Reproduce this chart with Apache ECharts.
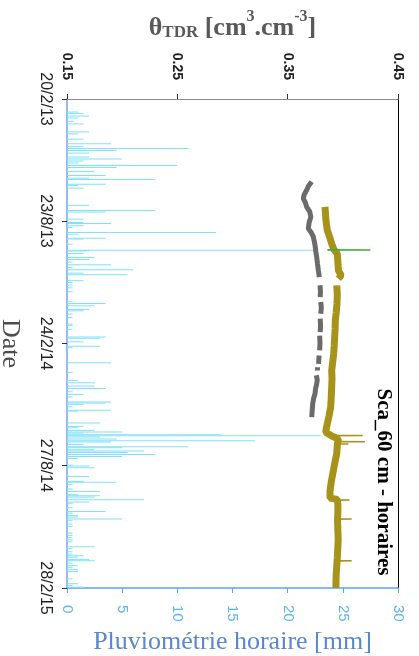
<!DOCTYPE html>
<html><head><meta charset="utf-8">
<script src="https://cdn.jsdelivr.net/npm/echarts@6/dist/echarts.min.js"></script>
<style>html,body{margin:0;padding:0;background:#fff}#c{width:419px;height:656px}</style>
</head><body><div id="c"></div>
<script>
// Dates are stored as "days since 20/2/2013"
const startDay = 0;            // 20/2/13
const endDay = 738;            // 28/2/15
const dateTickDays = [0, 184, 369, 553, 738];
const dateTickLabels = ['20/2/13', '23/8/13', '24/2/14', '27/8/14', '28/2/15'];

// Pluviométrie horaire [mm]
const rainDays = [19,21,25,28,33,37,49,52,60,67,71,74,77,81,87,90,93,96,100,103,109,115,119,121,128,130,134,160,168,170,181,186,
  187.5,191,193.5,201,203.6,209.7,211,218.8,227.8,229,233,239,242,246,250,254,257.6,262.6,265,274,276.7,280.8,284.8,290.8,305,308.5,312,317.5,319.6,324.6,329.6,339.7,342,348,359,361,366.4,
  373,375.4,398,413,424.8,428.4,433.4,437,442,446,450,457.6,459,461,464.7,470,471.2,489.3,494.4,496.4,500.4,503,504.5,507,508.5,510.5,513.5,516,518,521.6,525,526.6,529.7,531.7,533.7,536.7,540,542.8,552.9,554.4,556.9,
  570,577.6,579,582.6,589,592.7,597.7,599.3,601.3,605.3,608.8,611.3,617.4,623,625.5,629,631.5,634.5,637,642,645.6,655.7,659.2,662.8,665.8,668.8,676.4,678.9,684,687.5,690,692,695.5,697.5,701,705,708,711,714,724.7,732.3,734.8,737.5];
const rainMm = [1.0,1.5,2.0,1.0,0.6,1.5,2.0,1.0,1.5,4.0,1.5,11.0,4.5,2.0,2.0,5.0,1.5,1.0,10.0,4.5,2.5,3.5,2.0,8.0,3.5,1.0,1.5,2.0,8.0,3.5,1.5,1.5,
  4.0,1.5,0.5,13.5,1.0,3.5,1.5,0.5,22.5,2.0,1.5,2.5,2.0,0.5,4.0,0.5,6.0,1.5,5.5,1.5,0.5,0.5,0.5,0.5,0.5,3.5,2.5,2.0,1.5,0.5,0.5,0.5,0.5,0.5,3.5,3.0,1.5,
  3.0,0.5,4.0,0.5,1.0,2.5,2.5,3.5,0.5,1.5,0.5,4.0,3.5,1.5,0.5,4.0,1.0,3.0,1.5,1.0,2.5,5.0,1.5,14.0,23.0,3.0,4.5,17.0,4.0,1.5,11.0,5.0,2.5,7.0,5.5,8.0,5.0,1.0,0.5,2.0,2.5,
  2.0,1.5,4.5,0.5,0.5,3.0,1.0,3.0,2.5,7.0,2.0,0.5,0.5,3.5,0.5,1.0,1.0,5.0,0.5,0.5,0.5,0.5,0.5,0.5,0.5,0.5,2.5,0.5,0.5,0.5,1.5,1.0,2.0,2.5,0.5,1.0,0.5,1.0,1.0,0.5,1.0,0.5,1.5];

// θTDR – grey probe (with gaps)
const greyDays = [125,131,137.6,144,150.2,156,162.8,170,178,186,195.6,202,208.2,214,220.8,230,238.4,248,258.6,268.7,275,281,290,299,302,306.5,315,324,328,331.6,342,351.8,354,357,368,379.5,383,387,393,399.6,402,404.7,409.8,413,417,424,430,438,445,452,460,470,480];
const greyTheta = [0.3718,0.3690,0.3672,0.3650,0.3642,0.3660,0.3672,0.3700,0.3710,0.3695,0.3687,0.3715,0.3733,0.3740,0.3748,0.3755,0.3763,0.3770,0.3778,0.3787,null,0.3793,0.3797,0.3795,null,0.3800,0.3805,0.3800,null,0.3795,0.3798,0.3795,null,0.3790,0.3793,0.3790,null,0.3785,0.3782,0.3780,null,0.3770,0.3770,null,0.3760,0.3768,0.3763,0.3752,0.3748,0.3735,0.3727,0.3722,0.3718];

// θTDR – Sca_60 cm (olive)
const oliveDays = [162.8,171,180,189,198.1,208,218.3,227.4,233.4,246,258.6,266.2,271.2,273.7,281.3,295,309,322,334.2,347,359.4,372,384.6,397,409.8,422,435,450,465.2,478,490.4,497,503,508.7,513.1,521.2,528,535.8,551,566,578,591.2,602.3,604.3,612,621,636,651.7,664,676.9,692,707,717,727.3,738];
const oliveTheta = [0.3838,0.3842,0.3845,0.3852,0.3859,0.3880,0.3899,0.3920,0.3950,0.3955,0.3960,0.3985,0.3960,null,0.3945,0.3950,0.3947,0.3940,0.3932,0.3930,0.3926,0.3922,0.3917,0.3908,0.3899,0.3902,0.3899,0.3895,0.3890,0.3875,0.3859,0.3850,0.3845,0.3900,0.3960,0.3950,0.3948,0.3944,0.3925,0.3908,0.3895,0.3884,0.3884,0.3950,0.3955,0.3955,0.3952,0.3955,0.3958,0.3955,0.3950,0.3944,0.3940,0.3938,0.3938];

// olive short peaks
const peakDays = [507.9,508,508.1,512,517,517.1,517.2,519,520.6,520.7,520.8,560,605.2,605.3,605.4,620,633.9,634,634.1,660,696.9,697,697.1];
const peakTheta = [0.3900,0.4180,0.3900,null,0.3960,0.4200,0.3960,null,0.3950,0.4050,0.3950,null,0.3950,0.4060,0.3950,null,0.3950,0.4080,0.3950,null,0.3950,0.4080,0.3950];

// green peak
const greenDays = [227.7,227.8,227.9];
const greenTheta = [0.3860,0.4250,0.3860];

const DAY = 86400000;
const T0 = Date.UTC(2013, 1, 20);
const toT = d => T0 + d * DAY;
const pairsDay = (days, vals) => days.map((d, i) => [vals[i], d]);
const fmtDay = v => { const i = dateTickDays.indexOf(Math.round(v)); return i >= 0 ? dateTickLabels[i] : ''; };

const chart = echarts.init(document.getElementById('c'));
const serif = '"Liberation Serif", "Times New Roman", serif';
const sans = '"Liberation Sans", Arial, sans-serif';
chart.setOption({
  useUTC: true,
  animation: false,
  grid: { left: 67, right: 21, top: 99, bottom: 68, show: false, outerBoundsMode: 'none', containLabel: false },
  xAxis: [
    {
      type: 'value', position: 'top', min: 0.15, max: 0.45, interval: 0.1,
      name: '{a|θ}{b|TDR}{a| [cm}{s|3}{a|.cm}{s|-3}{a|]}',
      nameLocation: 'middle', nameGap: 58,
      nameTextStyle: {
        rich: {
          a: { fontFamily: serif, fontSize: 26, fontWeight: 'bold', color: '#595959', lineHeight: 32, verticalAlign: 'bottom' },
          b: { fontFamily: serif, fontSize: 17, fontWeight: 'bold', color: '#595959', lineHeight: 27, verticalAlign: 'bottom' },
          s: { fontFamily: serif, fontSize: 16, fontWeight: 'bold', color: '#595959', lineHeight: 32, verticalAlign: 'top' }
        }
      },
      axisLine: { show: true, lineStyle: { color: '#8c8c8c', width: 1 } },
      axisTick: { show: true, length: 5, lineStyle: { color: '#333' } },
      axisLabel: { rotate: -90, margin: 19, fontFamily: sans, fontWeight: 'bold', fontSize: 14, color: '#222', formatter: v => v.toFixed(2) },
      splitLine: { show: false }
    },
    {
      type: 'value', position: 'bottom', min: 0, max: 30, interval: 5,
      name: 'Pluviométrie horaire [mm]', nameLocation: 'middle', nameGap: 40,
      nameTextStyle: { fontFamily: serif, fontSize: 26, color: '#5b88cc' },
      axisLine: { show: true, lineStyle: { color: '#5aa5f2', width: 1.5 } },
      axisTick: { show: true, length: 5, lineStyle: { color: '#5aa5f2' } },
      axisLabel: { rotate: -90, margin: 17, fontFamily: sans, fontSize: 15, color: '#5cb5f5' },
      splitLine: { show: false }
    }
  ],
  yAxis: [
    {
      // time axis used by the rain bars (horizontal bars need a time base axis)
      type: 'time', inverse: true, min: toT(startDay), max: toT(endDay),
      axisLine: { show: true, lineStyle: { color: '#7aa2e2', width: 1.5 } },
      axisTick: { show: false }, axisLabel: { show: false }, splitLine: { show: false }
    },
    {
      // same dates, as days since 20/2/13, carrying the labels
      type: 'value', position: 'left', inverse: true, min: startDay, max: endDay,
      name: 'Date', nameLocation: 'middle', nameRotate: -90, nameGap: 44,
      nameTextStyle: { fontFamily: serif, fontSize: 26, color: '#4d4d4d' },
      axisLine: { show: false },
      axisTick: { show: true, length: 5, customValues: dateTickDays, lineStyle: { color: '#333' } },
      axisLabel: { rotate: -90, margin: 14, customValues: dateTickDays, hideOverlap: false, fontFamily: sans, fontSize: 16, color: '#222', formatter: fmtDay },
      splitLine: { show: false }
    },
    {
      type: 'value', position: 'right', min: 0, max: 1,
      axisLine: { show: true, lineStyle: { color: '#000', width: 1 } },
      axisTick: { show: false }, axisLabel: { show: false }, splitLine: { show: false }
    }
  ],
  series: [
    { name: 'Pluviométrie', type: 'bar', xAxisIndex: 1, yAxisIndex: 0, data: rainDays.map((d, i) => [rainMm[i], toT(d)]), barWidth: 1, itemStyle: { color: '#7fe2f8' }, z: 1 },
    { name: 'grey', type: 'line', xAxisIndex: 0, yAxisIndex: 1, data: pairsDay(greyDays, greyTheta), showSymbol: false, connectNulls: false, lineStyle: { color: '#6b6b6b', width: 5 }, z: 2 },
    { name: 'Sca_60', type: 'line', xAxisIndex: 0, yAxisIndex: 1, data: pairsDay(oliveDays, oliveTheta), showSymbol: false, connectNulls: false, lineStyle: { color: '#a8931a', width: 7 }, z: 3 },
    { name: 'peaks', type: 'line', xAxisIndex: 0, yAxisIndex: 1, data: pairsDay(peakDays, peakTheta), showSymbol: false, connectNulls: false, lineStyle: { color: '#a8931a', width: 1.5 }, z: 3 },
    { name: 'green', type: 'line', xAxisIndex: 0, yAxisIndex: 1, data: pairsDay(greenDays, greenTheta), showSymbol: false, lineStyle: { color: '#3cae3c', width: 1.5 }, z: 4 }
  ],
  graphic: [
    { type: 'text', x: 383, y: 482, rotation: -Math.PI / 2, z: 10,
      style: { text: 'Sca_60 cm - horaires', fontFamily: serif, fontWeight: 'bold', fontSize: 21, fill: '#000', align: 'center', verticalAlign: 'middle' } }
  ]
});
</script>
</body></html>
